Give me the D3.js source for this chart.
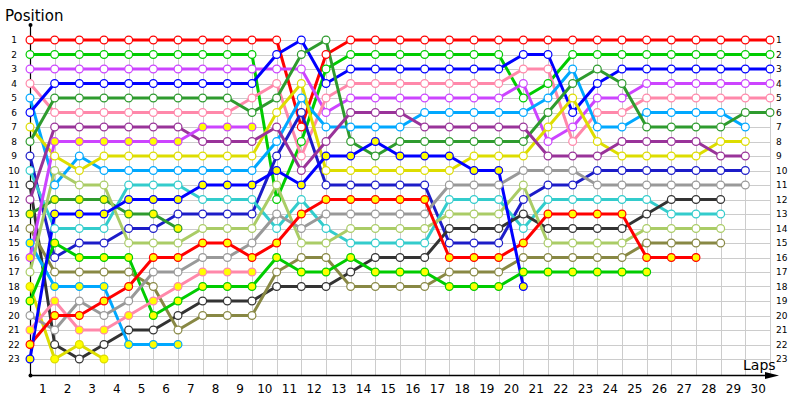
<!DOCTYPE html>
<html><head><meta charset="utf-8">
<script src="https://cdn.jsdelivr.net/npm/d3@7"></script>
<style>body{margin:0;background:#fff}svg{display:block}</style>
</head><body>
<svg id="c" width="800" height="400"></svg>
<script>
// ---- data ----
const positionTicks = d3.range(1, 24);
const lapTicks = d3.range(1, 31);
// position of each car at each lap (index 0 = start)
const redA     = [1,1,1,1,1,1,1,1,1,1,1,7,2,1,1,1,1,1,1,1,1,1,1,1,1,1,1,1,1,1,1];
const greenA   = [2,2,2,2,2,2,2,2,2,2,12,8,3,2,2,2,2,2,2,2,5,4,2,2,2,2,2,2,2,2,2];
const magentaA = [3,3,3,3,3,3,3,3,3,3,3,3,6,5,5,5,5,5,5,5,4,8,7,5,5,4,4,4,4,4,4];
const pinkA    = [4,6,6,6,6,6,6,6,6,5,4,9,5,4,4,4,4,4,4,4,3,3,8,6,6,5,5,5,5,5,5];
const skyA     = [5,11,9,10,10,10,10,10,10,10,8,5,7,7,7,7,6,6,6,6,6,5,3,7,7,6,6,6,6,7];
const blueA    = [6,4,4,4,4,4,4,4,4,4,2,1,4,3,3,3,3,3,3,3,2,2,6,4,3,3,3,3,3,3,3];
const yellowA  = [7,9,10,9,9,9,9,9,9,9,6,4,10,10,10,10,10,10,9,9,9,7,5,8,9,9,9,9,8,8];
const forestA  = [8,5,5,5,5,5,5,5,5,6,5,2,1,8,9,8,8,8,8,8,8,6,4,3,4,7,7,7,7,6,6];
const navyA    = [9,16,15,15,14,14,13,13,13,13,9,6,11,11,11,11,11,15,15,15,12,11,11,10,10,10,10,10,10,10];
const tealA    = [10,14,14,14,11,11,11,12,12,12,14,12,14,15,15,15,15,12,12,12,14,12,12,12,12,12,13,13,13];
const charcoalA= [11,22,23,22,21,21,20,19,19,19,18,18,18,17,16,16,16,14,14,14,13,14,14,14,14,13,12,12,12];
const violetA  = [12,7,7,7,7,7,7,8,8,8,7,10,8,6,6,6,7,7,7,7,7,9,9,9,8,8,8,8,9,9];
const forestB  = [13,12,12,12,13,13,14];
const oliveA   = [14,17,17,17,17,18,21,20,20,20,17,16,16,18,18,18,18,17,17,17,16,16,16,16,16,15,15,15,15];
const skyB     = [15,18,18,18,22,22,22];
const magentaB = [16,8,8,8,8,8,8,7,7,7];
const limeA    = [17,10,11,11,15,15,15,14,14,14,11,15,15,14,14,14,14,13,13,13,11,15,15,15,15,14,14,14,14];
const yellowB  = [18,23,22,23];
const greenB   = [19,15,16,16,16,20,19,18,18,18,16,17,17,16,17,17,17,18,18,18,17,17,17,17,17,17];
const greyA    = [20,21,19,20,19,17,17,16,16,15,13,14,13,13,13,13,13,11,11,11,10,10,10,11,11,11,11,11,11,11];
const pinkB    = [21,19,21,21,20,19,18,17,17,17];
const redB     = [22,20,20,19,18,16,16,15,15,16,15,13,12,12,12,12,12,16,16,16,15,13,13,13,13,16,16,16];
const blueB    = [23,13,13,13,12,12,12,11,11,11,10,11,9,9,8,9,9,9,10,10,18];

const seriesValues = [redA,greenA,magentaA,pinkA,skyA,blueA,yellowA,forestA,navyA,tealA,charcoalA,violetA,
  forestB,oliveA,skyB,magentaB,limeA,yellowB,greenB,greyA,pinkB,redB,blueB];
// ---- style ----
const seriesColors = ["#ff0000","#00cc00","#cc44ff","#ff88aa","#00a8ff","#0000ff","#dddd00","#2e9b2e","#1c1cc8","#33cccc","#333333","#993399",
  "#2e9b2e","#888844","#00a8ff","#cc44ff","#aacc66","#dddd00","#00cc00","#999999","#ff88aa","#ff0000","#0000ff"];
const seriesFill = ["w","w","w","w","w","w","w","w","w","w","w","w","y","w","y","y","w","y","y","w","y","y","y"];

const svg = d3.select("#c");
const x = d3.scaleLinear().domain([0, 30]).range([30, 770]);
const y = d3.scaleLinear().domain([1, 23]).range([40, 359]);
const font = "DejaVu Sans, Verdana, sans-serif";

// grid
const g = svg.append("g").attr("stroke", "#cccccc").attr("stroke-width", 1);
g.selectAll("line.h").data(positionTicks).join("line")
  .attr("x1", x(0)).attr("x2", x(30))
  .attr("y1", d => Math.round(y(d)) + 0.5).attr("y2", d => Math.round(y(d)) + 0.5);
g.selectAll("line.v").data(d3.range(1, 31)).join("line")
  .attr("y1", y(1)).attr("y2", 375)
  .attr("x1", d => Math.round(x(d)) + 0.5).attr("x2", d => Math.round(x(d)) + 0.5);

// axes
const yl = d3.axisLeft(y).tickValues(positionTicks).tickSize(0).tickPadding(0);
const leftAx = svg.append("g").attr("transform", "translate(18,0)").call(yl);
leftAx.select(".domain").remove();
leftAx.selectAll("text").attr("font-family", font).attr("font-size", 9).attr("fill", "#000").attr("text-anchor", "middle").attr("x", -4);
const yr = d3.axisRight(y).tickValues(positionTicks).tickSize(0).tickPadding(0);
const rightAx = svg.append("g").attr("transform", "translate(776,0)").call(yr);
rightAx.select(".domain").remove();
rightAx.selectAll("text").attr("font-family", font).attr("font-size", 9).attr("fill", "#000");

const xb = d3.axisBottom(x).tickValues(lapTicks.map(d => d - 0.5)).tickFormat(d => d + 0.5).tickSize(0).tickPadding(0);
const botAx = svg.append("g").attr("transform", "translate(0,384)").call(xb);
botAx.select(".domain").remove();
botAx.selectAll("text").attr("font-family", font).attr("font-size", 12).attr("fill", "#000");

svg.append("line").attr("x1", 30.5).attr("x2", 30.5).attr("y1", 25).attr("y2", 375).attr("stroke", "#000").attr("stroke-width", 1.2);
svg.append("line").attr("x1", 30).attr("x2", 772).attr("y1", 375.5).attr("y2", 375.5).attr("stroke", "#000").attr("stroke-width", 1.5);
svg.append("path").attr("d", "M765,372 L779,375.5 L765,379 Z").attr("fill", "#000");
svg.append("circle").attr("cx", 30.5).attr("cy", 25).attr("r", 2).attr("fill", "#000");
svg.append("circle").attr("cx", 30.5).attr("cy", 375.5).attr("r", 2).attr("fill", "#000");

svg.append("text").attr("x", 5).attr("y", 21).attr("font-family", font).attr("font-size", 15).attr("fill", "#000").text("Position");
svg.append("text").attr("x", 743).attr("y", 370).attr("font-family", font).attr("font-size", 14).attr("fill", "#000").text("Laps");

// series
const line = d3.line().x((d, i) => x(i)).y(d => y(d));
const series = seriesValues.map((v, i) => ({ v, color: seriesColors[i], fill: seriesFill[i] }));
svg.append("g").selectAll("path").data(series).join("path")
  .attr("d", d => line(d.v)).attr("fill", "none").attr("stroke", d => d.color)
  .attr("stroke-width", 3).attr("stroke-linejoin", "round");
const mg = svg.append("g");
series.forEach(s => {
  mg.append("g").selectAll("circle").data(s.v).join("circle")
    .attr("cx", (d, i) => x(i)).attr("cy", d => y(d)).attr("r", 3.9)
    .attr("fill", s.fill === "y" ? "#ffff00" : "#ffffff")
    .attr("stroke", s.color).attr("stroke-width", 1.2);
});
</script>
</body></html>
